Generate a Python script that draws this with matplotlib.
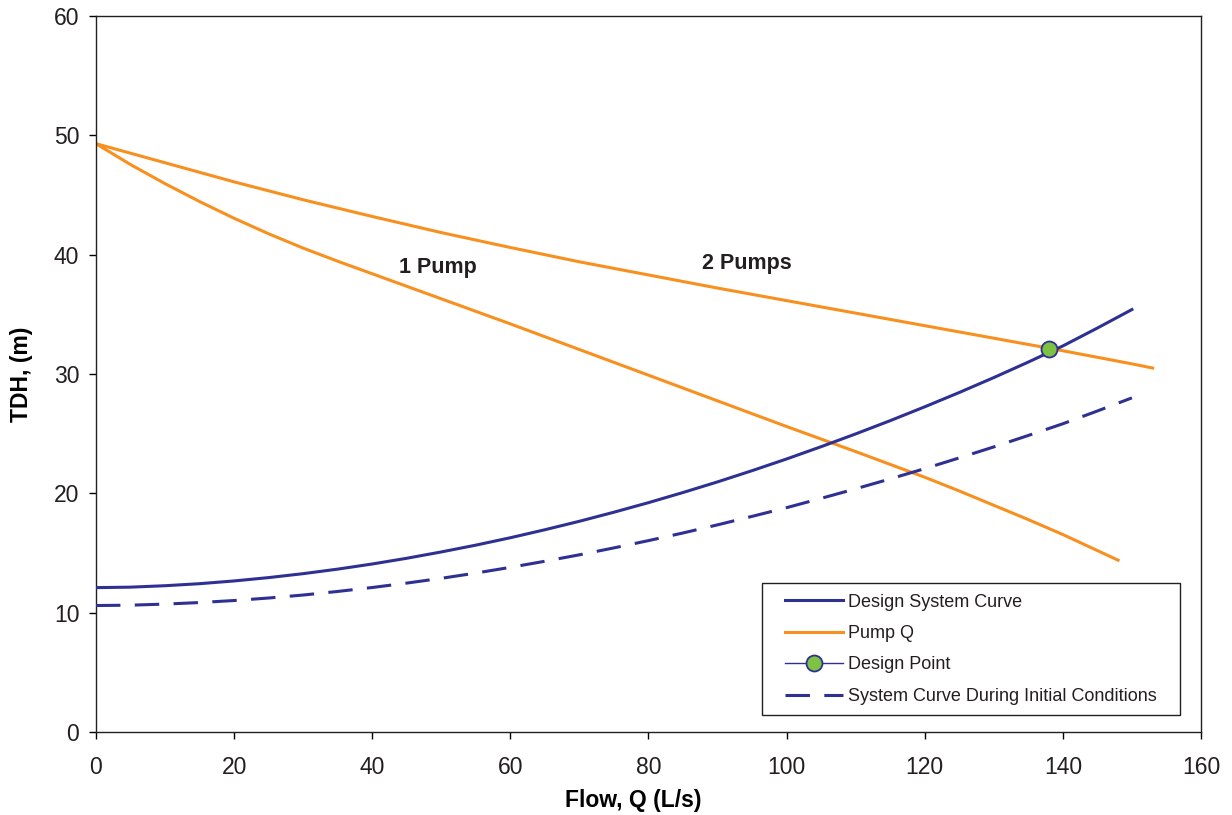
#!/usr/bin/env python3
"""Pump curves (1 and 2 pumps) against the design and initial system curves."""

import matplotlib

matplotlib.use("Agg")
import matplotlib.pyplot as plt
from matplotlib.patches import Rectangle

BLUE = "#2E3192"
ORANGE = "#F7901E"
GREEN = "#7DC242"
TEXT = "#231F20"

# flow values, L/s
q_system = [0, 5, 10, 15, 20, 25, 30, 35, 40, 45, 50, 55, 60, 65, 70, 75,
            80, 85, 90, 95, 100, 105, 110, 115, 120, 125, 130, 135, 140, 145, 150]
# TDH, m
h_design = [12.10, 12.14, 12.26, 12.43, 12.66, 12.94, 13.27, 13.65, 14.08, 14.56,
            15.09, 15.66, 16.28, 16.95, 17.66, 18.42, 19.22, 20.07, 20.96, 21.90,
            22.88, 23.91, 24.98, 26.09, 27.25, 28.45, 29.70, 31.00, 32.35, 33.85, 35.40]
h_initial = [10.60, 10.63, 10.72, 10.85, 11.02, 11.23, 11.48, 11.78, 12.11, 12.48,
             12.88, 13.32, 13.80, 14.31, 14.85, 15.43, 16.04, 16.68, 17.36, 18.07,
             18.80, 19.58, 20.38, 21.21, 22.07, 22.97, 23.89, 24.85, 25.83, 26.90, 28.00]

q_one_pump = [0, 5, 10, 15, 20, 25, 30, 35, 40, 50, 60, 70, 80, 90, 100,
              110, 120, 125, 130, 135, 140, 148]
h_one_pump = [49.30, 47.55, 45.95, 44.45, 43.05, 41.75, 40.55, 39.45, 38.40, 36.30,
              34.20, 32.05, 29.90, 27.75, 25.60, 23.50, 21.35, 20.20, 19.00, 17.80,
              16.55, 14.40]

q_two_pumps = [0, 5, 10, 15, 20, 30, 40, 50, 60, 70, 80, 90, 100, 110, 120,
               130, 140, 150, 153]
h_two_pumps = [49.3, 48.5, 47.7, 46.9, 46.1, 44.6, 43.2, 41.85, 40.6, 39.4,
               38.3, 37.2, 36.15, 35.1, 34.05, 33.0, 31.95, 30.85, 30.5]

design_q = [138]
design_h = [32.1]

x_ticks = [0, 20, 40, 60, 80, 100, 120, 140, 160]
y_ticks = [0, 10, 20, 30, 40, 50, 60]


def main() -> int:
    plt.rcParams["font.family"] = ["Liberation Sans", "DejaVu Sans"]
    plt.rcParams["text.color"] = TEXT

    fig = plt.figure(figsize=(12.32, 8.15), dpi=100)
    ax = fig.add_axes([0.0779, 0.1018, 0.8969, 0.8786])

    lw = 2.2
    ax.plot(q_system, h_design, color=BLUE, lw=lw, label="Design System Curve", zorder=3)
    ax.plot(q_one_pump, h_one_pump, color=ORANGE, lw=lw, label="Pump Q", zorder=2)
    ax.plot(q_two_pumps, h_two_pumps, color=ORANGE, lw=lw, zorder=2)
    ax.plot(design_q, design_h, color=BLUE, lw=1.0, marker="o", ms=11.5,
            mfc=GREEN, mec=BLUE, mew=1.3, label="Design Point", zorder=5)
    ax.plot(q_system, h_initial, color=BLUE, lw=lw, dashes=(8, 4.7),
            label="System Curve During Initial Conditions", zorder=3)

    ax.text(49.5, 38.9, "1 Pump", fontsize=15.5, fontweight="bold",
            ha="center", va="center")
    ax.text(94.3, 39.3, "2 Pumps", fontsize=15.5, fontweight="bold",
            ha="center", va="center")

    ax.set_xlim(0, 160)
    ax.set_ylim(0, 60)
    ax.set_xticks(x_ticks)
    ax.set_yticks(y_ticks)
    ax.tick_params(axis="both", direction="out", length=5, width=1.0,
                   labelsize=16.5, labelcolor=TEXT)
    ax.tick_params(axis="x", pad=12)
    ax.tick_params(axis="y", pad=7)
    ax.tick_params(top=False, right=False)
    for spine in ax.spines.values():
        spine.set_linewidth(1.0)
        spine.set_color(TEXT)

    ax.set_xlabel("Flow, Q (L/s)", fontsize=16.5, fontweight="bold")
    ax.set_ylabel("TDH, (m)", fontsize=16.5, fontweight="bold")
    ax.xaxis.set_label_coords(0.486, -0.079)
    ax.yaxis.set_label_coords(-0.057, 0.5)

    # legend box: wide side margins, tight top and bottom
    box_x0, box_y0, box_w, box_h = 0.603, 0.0237, 0.378, 0.184
    ax.add_patch(Rectangle((box_x0, box_y0), box_w, box_h, transform=ax.transAxes,
                           facecolor="white", edgecolor=TEXT, lw=1.0, zorder=6))
    leg = ax.legend(loc="center", bbox_to_anchor=(box_x0 + box_w / 2, box_y0 + box_h / 2),
                    fontsize=13, frameon=False, handlelength=3.2, handletextpad=0.3,
                    labelspacing=0.8, borderpad=0.2, borderaxespad=0)
    leg.set_zorder(7)

    fig.savefig("out.png", dpi=100)
    plt.close("all")
    return 0


if __name__ == "__main__":
    raise SystemExit(main())
